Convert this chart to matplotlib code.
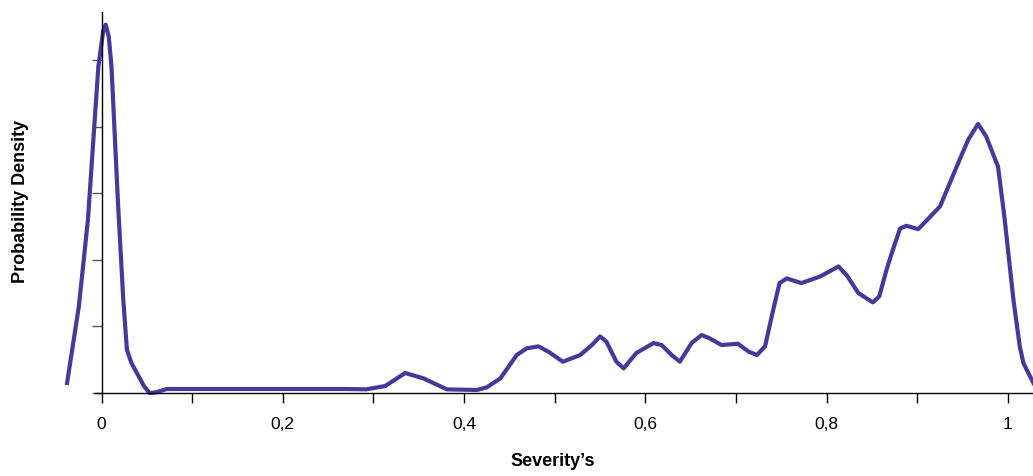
import matplotlib.pyplot as plt
import numpy as np

plt.rcParams['font.family'] = ['Liberation Sans', 'DejaVu Sans']

# severity values and density (y in tick units)
severity = [-0.038, -0.025, -0.015, -0.011, -0.0035, 0.002, 0.0046, 0.008, 0.011, 0.018,
            0.024, 0.028, 0.033, 0.039, 0.047, 0.053, 0.06, 0.072, 0.1, 0.2,
            0.27, 0.292, 0.313, 0.335, 0.355, 0.381, 0.414, 0.425, 0.440, 0.458,
            0.469, 0.482, 0.493, 0.509, 0.528, 0.541, 0.550, 0.557, 0.568, 0.576,
            0.590, 0.609, 0.618, 0.629, 0.638, 0.651, 0.662, 0.671, 0.684, 0.702,
            0.714, 0.723, 0.732, 0.741, 0.748, 0.756, 0.772, 0.793, 0.813, 0.822,
            0.835, 0.851, 0.858, 0.866, 0.873, 0.881, 0.888, 0.901, 0.925, 0.945,
            0.956, 0.967, 0.976, 0.989, 0.996, 1.006, 1.013, 1.017, 1.028]
density = [0.15, 1.3, 2.6, 3.4, 4.9, 5.45, 5.53, 5.35, 4.9, 2.9,
           1.4, 0.65, 0.45, 0.3, 0.1, 0.0, 0.01, 0.06, 0.06, 0.06,
           0.06, 0.055, 0.105, 0.3, 0.22, 0.055, 0.045, 0.085, 0.22, 0.57,
           0.67, 0.70, 0.62, 0.47, 0.57, 0.72, 0.85, 0.77, 0.47, 0.37,
           0.60, 0.75, 0.72, 0.57, 0.47, 0.75, 0.87, 0.82, 0.72, 0.74,
           0.62, 0.57, 0.70, 1.25, 1.65, 1.72, 1.65, 1.75, 1.90, 1.77,
           1.50, 1.36, 1.45, 1.85, 2.15, 2.47, 2.51, 2.46, 2.8, 3.45,
           3.8, 4.04, 3.85, 3.4, 2.65, 1.4, 0.7, 0.45, 0.15]

major_ticks = [0, 0.2, 0.4, 0.6, 0.8, 1.0]
major_labels = ['0', '0,2', '0,4', '0,6', '0,8', '1']
minor_ticks = [0.1, 0.3, 0.5, 0.7, 0.9]
y_ticks = [0, 1, 2, 3, 4, 5]

W, H = 1033, 476
fig = plt.figure(figsize=(W / 100, H / 100), dpi=100)
ax = fig.add_axes([62 / W, (H - 393) / H, (W - 62) / W, (393 - 12) / H])

ax.plot(severity, density, color='#46399A', lw=3, clip_on=False, solid_joinstyle='round')

ax.set_xlim(-0.0436, 1.0276)
ax.set_ylim(0, 5.72)

for s in ['top', 'right']:
    ax.spines[s].set_visible(False)
ax.spines['left'].set_position(('data', 0))
ax.spines['bottom'].set_bounds(-0.007, 1.0276)
ax.spines['left'].set_linewidth(1)
ax.spines['bottom'].set_linewidth(1)

ax.set_xticks(major_ticks)
ax.set_xticklabels(major_labels)
ax.set_xticks(minor_ticks, minor=True)
ax.set_yticks(y_ticks)
ax.set_yticklabels([])
ax.tick_params(axis='x', which='both', direction='out', length=7, width=1, pad=10, labelsize=12.5)
ax.tick_params(axis='y', direction='out', length=7, width=1, color='#555555')

ax.set_xlabel("Severity\u2019s", fontsize=13, fontweight='bold')
ax.set_ylabel('Probability Density', fontsize=13, fontweight='bold')
ax.xaxis.set_label_coords(0.5057, -0.158)
ax.yaxis.set_label_coords(-0.034, 0.504)

fig.savefig('out.png', dpi=100)
